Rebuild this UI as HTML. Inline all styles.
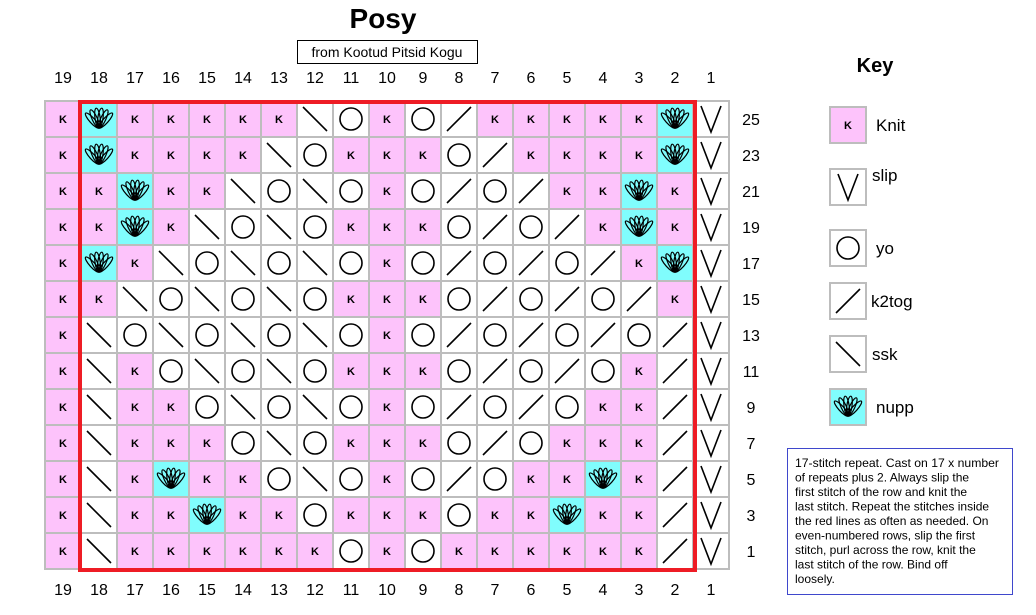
<!DOCTYPE html>
<html><head><meta charset="utf-8"><style>
html,body{margin:0;padding:0;background:#fff;}
svg{display:block;font-family:"Liberation Sans",sans-serif;}
.k{font-weight:bold;font-size:11px;text-anchor:middle;}
.n{font-size:16px;text-anchor:middle;fill:#000;}
.lg{font-size:17px;fill:#000;}
</style></head><body>
<svg id="s" width="1036" height="615" viewBox="0 0 1036 615" xmlns="http://www.w3.org/2000/svg">
<g id="cells"></g>
<text x="383" y="28" font-size="28" font-weight="bold" text-anchor="middle">Posy</text>
<rect x="297.5" y="40.5" width="180" height="23" fill="#fff" stroke="#000" stroke-width="1"/>
<text x="387" y="57" font-size="14" text-anchor="middle">from Kootud Pitsid Kogu</text>
<g class="n">
<text x="63" y="83">19</text><text x="99" y="83">18</text><text x="135" y="83">17</text><text x="171" y="83">16</text><text x="207" y="83">15</text><text x="243" y="83">14</text><text x="279" y="83">13</text><text x="315" y="83">12</text><text x="351" y="83">11</text><text x="387" y="83">10</text><text x="423" y="83">9</text><text x="459" y="83">8</text><text x="495" y="83">7</text><text x="531" y="83">6</text><text x="567" y="83">5</text><text x="603" y="83">4</text><text x="639" y="83">3</text><text x="675" y="83">2</text><text x="711" y="83">1</text>
<text x="63" y="595">19</text><text x="99" y="595">18</text><text x="135" y="595">17</text><text x="171" y="595">16</text><text x="207" y="595">15</text><text x="243" y="595">14</text><text x="279" y="595">13</text><text x="315" y="595">12</text><text x="351" y="595">11</text><text x="387" y="595">10</text><text x="423" y="595">9</text><text x="459" y="595">8</text><text x="495" y="595">7</text><text x="531" y="595">6</text><text x="567" y="595">5</text><text x="603" y="595">4</text><text x="639" y="595">3</text><text x="675" y="595">2</text><text x="711" y="595">1</text>
<text x="751" y="125">25</text><text x="751" y="161">23</text><text x="751" y="197">21</text><text x="751" y="233">19</text><text x="751" y="269">17</text><text x="751" y="305">15</text><text x="751" y="341">13</text><text x="751" y="377">11</text><text x="751" y="413">9</text><text x="751" y="449">7</text><text x="751" y="485">5</text><text x="751" y="521">3</text><text x="751" y="557">1</text>
</g>
<g class="k">
<text x="63 135 171 207 243 279 387 495 531 567 603 639" y="123">KKKKKKKKKKKK</text>
<text x="63 135 171 207 243 351 387 423 531 567 603 639" y="159">KKKKKKKKKKKK</text>
<text x="63 99 171 207 387 567 603 675" y="195">KKKKKKKK</text>
<text x="63 99 171 351 387 423 603 675" y="231">KKKKKKKK</text>
<text x="63 135 387 639" y="267">KKKK</text>
<text x="63 99 351 387 423 675" y="303">KKKKKK</text>
<text x="63 387" y="339">KK</text>
<text x="63 135 351 387 423 639" y="375">KKKKKK</text>
<text x="63 135 171 387 603 639" y="411">KKKKKK</text>
<text x="63 135 171 207 351 387 423 567 603 639" y="447">KKKKKKKKKK</text>
<text x="63 135 207 243 387 531 567 639" y="483">KKKKKKKK</text>
<text x="63 135 171 243 279 351 387 423 495 531 603 639" y="519">KKKKKKKKKKKK</text>
<text x="63 135 171 207 243 279 315 387 459 495 531 567 603 639" y="555">KKKKKKKKKKKKKK</text>
<text x="848" y="129">K</text>
</g>
<rect x="80" y="102" width="615" height="468" fill="none" stroke="#ee1c25" stroke-width="4"/>
<text x="875" y="72" font-size="20" font-weight="bold" text-anchor="middle">Key</text>
<g id="key"></g>
<g class="lg">
<text x="876" y="131">Knit</text>
<text x="872" y="181">slip</text>
<text x="876" y="254">yo</text>
<text x="871" y="307">k2tog</text>
<text x="872" y="360">ssk</text>
<text x="876" y="413">nupp</text>
</g>
<rect x="787.5" y="448.5" width="225" height="146" fill="#fff" stroke="#3f48cc" stroke-width="1"/>
<g font-size="12" fill="#000">
<text x="795" y="467" textLength="204" lengthAdjust="spacingAndGlyphs">17-stitch repeat. Cast on 17 x number</text>
<text x="795" y="481.5">of repeats plus 2. Always slip the</text>
<text x="795" y="496">first stitch of the row and knit the</text>
<text x="795" y="510.5">last stitch. Repeat the stitches inside</text>
<text x="795" y="525">the red lines as often as needed. On</text>
<text x="795" y="539.5">even-numbered rows, slip the first</text>
<text x="795" y="554">stitch, purl across the row, knit the</text>
<text x="795" y="568.5">last stitch of the row. Bind off</text>
<text x="795" y="583">loosely.</text>
</g>
</svg>
<script>
var NS="http://www.w3.org/2000/svg";
var rows=["KNKKKKKSOKOLKKKKKNV","KNKKKKSOKKKOLKKKKNV","KKNKKSOSOKOLOLKKNKV","KKNKSOSOKKKOLOLKNKV","KNKSOSOSOKOLOLOLKNV","KKSOSOSOKKKOLOLOLKV","KSOSOSOSOKOLOLOLOLV","KSKOSOSOKKKOLOLOKLV","KSKKOSOSOKOLOLOKKLV","KSKKKOSOKKKOLOKKKLV","KSKNKKOSOKOLOKKNKLV","KSKKNKKOKKKOKKNKKLV","KSKKKKKKOKOKKKKKKLV"];
function el(p,t,a){var e=document.createElementNS(NS,t);for(var k in a)e.setAttribute(k,a[k]);p.appendChild(e);return e;}
function cell(g,x,y,c){
 var fill=c=="K"?"#fdc3fb":(c=="N"?"#80fdfd":"#fff");
 el(g,"rect",{x:x,y:y,width:36,height:36,fill:fill,stroke:"#bdbdbd","stroke-width":2});
 var cx=x+18,cy=y+18,st={stroke:"#000","stroke-width":1.6,fill:"none"};
 if(c=="O"){st.cx=cx;st.cy=cy;st.r=11;el(g,"circle",st);}
 else if(c=="L"){st.x1=cx-12;st.y1=cy+12;st.x2=cx+12;st.y2=cy-12;el(g,"line",st);}
 else if(c=="S"){st.x1=cx-12;st.y1=cy-12;st.x2=cx+12;st.y2=cy+12;el(g,"line",st);}
 else if(c=="V"){st.points=(cx-10)+","+(cy-13)+" "+cx+","+(cy+13)+" "+(cx+10)+","+(cy-13);el(g,"polyline",st);}
 else if(c=="N"){
  var angs=[-42,-25,-8,8,25,42];
  for(var i=0;i<angs.length;i++){
   el(g,"ellipse",{cx:cx,cy:cy-1,rx:2.6,ry:10,fill:"none",stroke:"#000","stroke-width":1.2,transform:"rotate("+angs[i]+" "+cx+" "+(cy+9)+")"});
  }
 }
}
var g=document.getElementById("cells");
for(var r=0;r<rows.length;r++)for(var c=0;c<19;c++)cell(g,45+c*36,101+r*36,rows[r][c]);
var kg=document.getElementById("key");
cell(kg,830,107,"K");cell(kg,830,169,"V");cell(kg,830,230,"O");cell(kg,830,283,"L");cell(kg,830,336,"S");cell(kg,830,389,"N");
var s=document.getElementById("s");var ks=s.querySelectorAll(".k");for(var i=0;i<ks.length;i++)s.appendChild(ks[i]);
</script>
</body></html>
